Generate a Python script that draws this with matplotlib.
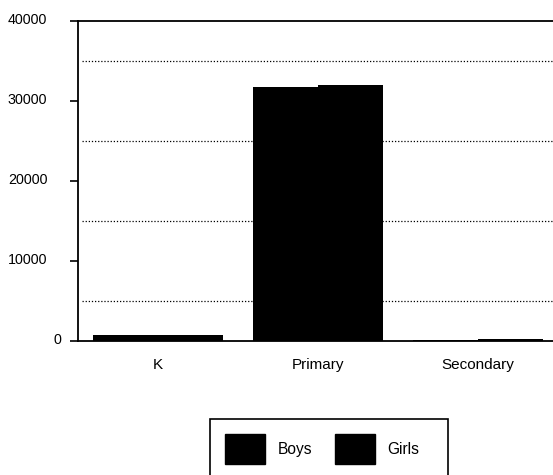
import numpy as np
import matplotlib; matplotlib.use("Agg")
import matplotlib.pyplot as plt
from matplotlib.patches import Patch, Rectangle
from matplotlib.transforms import ScaledTranslation

plt.rcParams['font.family'] = ['Liberation Sans', 'DejaVu Sans']

categories = ["K", "Primary", "Secondary"]
boys = [780, 31800, 80]
girls = [800, 32000, 300]
yticks = [0, 10000, 20000, 30000, 40000]
grid_levels = [5000, 15000, 25000, 35000]

W, H = 553, 475
fig = plt.figure(figsize=(W / 100, H / 100), dpi=100)
# axes right edge sits just past the image edge, as in the reference
ax = fig.add_axes([78 / W, 1 - 341 / H, 480 / W, 320 / H])

x = np.arange(len(categories))
bw = 0.406
ax.bar(x - bw / 2, boys, bw, color="black", zorder=3)
ax.bar(x + bw / 2, girls, bw, color="black", zorder=3)

for g in grid_levels:
    ax.axhline(g, xmin=0.008, color="black", lw=0.9, ls=(0, (1, 1.5)), zorder=1)

ax.set_xlim(-0.5, 2.5)
ax.set_ylim(0, 40000)
ax.set_yticks(yticks)
ax.set_yticklabels([str(v) for v in yticks], fontsize=10.3)
ax.set_xticks(x)
ax.set_xticklabels(categories, fontsize=11)
ax.tick_params(axis="x", length=0, pad=12)
ax.tick_params(axis="y", length=6, width=1.2, pad=16)
for s in ["left", "top", "bottom", "right"]:
    ax.spines[s].set_linewidth(1.3)
# labels sit a little above their ticks; the "0" label sits nearer the axis
for lab in ax.get_yticklabels():
    dx = 14 / 100 if lab.get_text() == "0" else 0
    lab.set_transform(lab.get_transform() + ScaledTranslation(dx, 2 / 100, fig.dpi_scale_trans))

handles = [Patch(facecolor="black", edgecolor="black"), Patch(facecolor="black", edgecolor="black")]
leg = fig.legend(handles, ["Boys", "Girls"], loc="upper left",
                 bbox_to_anchor=(210 / W, 1 - 419 / H), borderaxespad=0, ncol=2,
                 fontsize=11.2, handlelength=2.57, handleheight=2.57, handletextpad=0.82,
                 columnspacing=1.46, borderpad=0.96, frameon=False)
# legend box is wider on the right than the legend contents, so draw it by hand
fig.add_artist(Rectangle((210 / W, 1 - 480 / H), 238 / W, 61 / H, transform=fig.transFigure,
                         fill=False, edgecolor="black", lw=1.2))

fig.savefig("out.png", dpi=100)
